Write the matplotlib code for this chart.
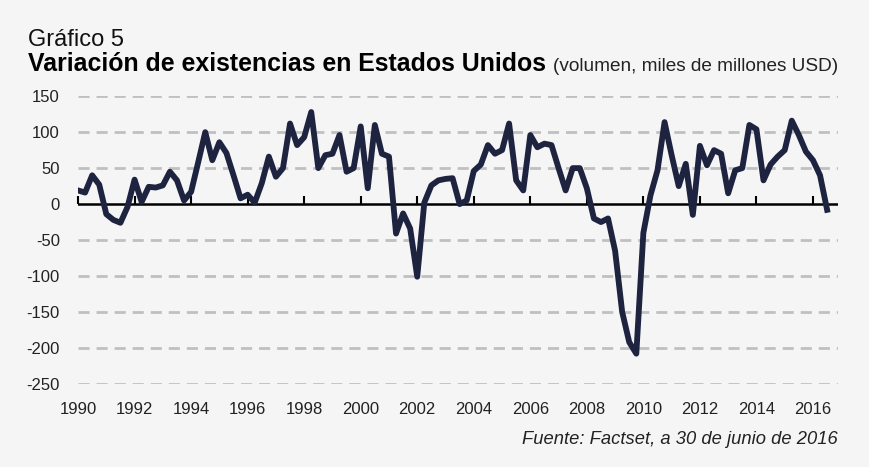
import matplotlib
matplotlib.use("Agg")
import matplotlib.pyplot as plt
import numpy as np

# Variacion de existencias EEUU, trimestral desde 1990
start_year = 1990
values = [19, 16, 40, 27, -14, -22, -26, -4, 34, 3, 24, 23, 26, 45, 33, 5,
          17, 58, 100, 61, 86, 71, 40, 8, 13, 2, 29, 66, 38, 50, 112, 82,
          93, 128, 50, 68, 70, 96, 45, 50, 108, 22, 110, 70, 66, -41, -13, -34,
          -101, 2, 26, 33, 35, 36, 0, 5, 46, 55, 82, 70, 75, 112, 33, 19,
          96, 79, 84, 82, 50, 19, 50, 50, 22, -20, -25, -20, -65, -150, -192, -208,
          -40, 12, 47, 114, 68, 25, 56, -15, 81, 54, 75, 70, 15, 47, 50, 110,
          104, 33, 55, 66, 75, 116, 96, 73, 61, 40, -8]
years = start_year + np.arange(len(values)) / 4.0

x_ticks = list(range(1990, 2017, 2))
y_ticks = list(range(-250, 151, 50))

bg = '#f5f5f5'
plt.rcParams['font.family'] = ['Liberation Sans', 'DejaVu Sans']
plt.rcParams['axes.unicode_minus'] = False

fig = plt.figure(figsize=(8.69, 4.67), dpi=100, facecolor=bg)
ax = fig.add_axes([0.0898, 0.178, 0.875, 0.616], facecolor=bg)

for y in y_ticks:                                   # lineas de cuadricula discontinuas
    if y != 0:
        ax.axhline(y, color='#c0c0c0', lw=2, ls=(0, (4, 2.5)), zorder=1)
ax.axhline(0, color='black', lw=1.8, zorder=2)

ax.plot(years, values, color='#1e2440', lw=4.2, solid_joinstyle='round', zorder=3)

ax.set_xlim(1990, 2016.9)
ax.set_ylim(-250, 150)
ax.set_yticks(y_ticks)
ax.set_xticks(x_ticks)
ax.tick_params(axis='both', length=0, labelsize=12, labelcolor='#222222')
ax.tick_params(axis='y', pad=13)
ax.tick_params(axis='x', pad=13)
for s in ax.spines.values():
    s.set_visible(False)

# marcas de los anos sobre la linea cero
sec = ax.secondary_xaxis(250 / 400)
sec.set_xticks(x_ticks)
sec.tick_params(axis='x', direction='out', length=6, width=1.5, color='black', labelbottom=False, labeltop=False)
for s in sec.spines.values():
    s.set_visible(False)

fig.text(0.032, 0.902, 'Gráfico 5', fontsize=17, color='#111111')
fig.text(0.032, 0.848, 'Variación de existencias en Estados Unidos', fontsize=17.9,
         fontweight='bold', color='black')
fig.text(0.964, 0.848, '(volumen, miles de millones USD)', fontsize=13.7,
         color='#222222', ha='right')
fig.text(0.964, 0.05, 'Fuente: Factset, a 30 de junio de 2016', fontsize=13.2,
         style='italic', color='#222222', ha='right')

fig.savefig('out.png', dpi=100, facecolor=bg)
